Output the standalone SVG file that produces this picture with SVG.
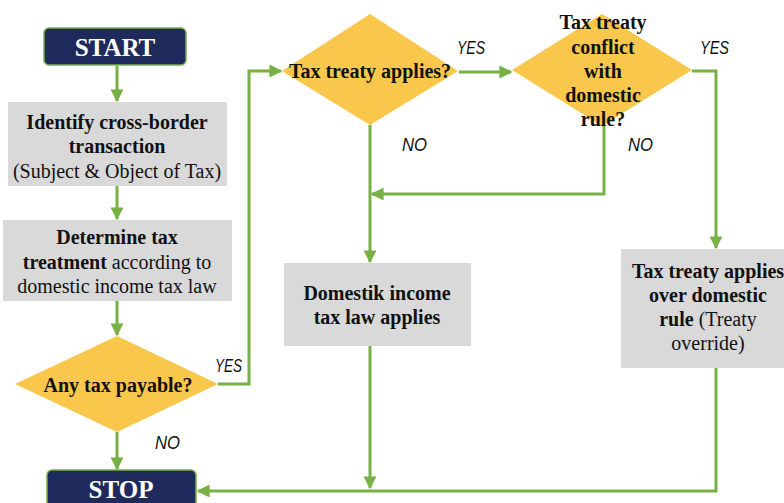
<svg xmlns="http://www.w3.org/2000/svg" width="784" height="503" viewBox="0 0 784 503">
<defs>
<style>
.term{fill:#1F2A5C;stroke:#77B043;stroke-width:1.5}
.proc{fill:#D9D9D9}
.dec{fill:#F9C74B}
.tt{font-family:"Liberation Serif","Times New Roman",serif;font-size:25px;font-weight:bold;fill:#FFFFFF;text-anchor:middle}
.t{font-family:"Liberation Serif","Times New Roman",serif;font-size:20px;fill:#111111;text-anchor:middle}
.b{font-weight:bold}
.lbl{font-family:"Liberation Sans",sans-serif;font-style:italic;font-size:18.5px;fill:#111111}
.c{fill:none;stroke:#77B043;stroke-width:3}
</style>
<marker id="ah" viewBox="0 0 10 10" refX="9" refY="5" markerWidth="4.3" markerHeight="4.3" markerUnits="strokeWidth" orient="auto">
<path d="M0,0 L10,5 L0,10 Z" fill="#77B043"/>
</marker>
</defs>
<rect width="784" height="503" fill="#FFFFFF"/>

<g id="connectors">
<path class="c" d="M117,66 V101" marker-end="url(#ah)"/>
<path class="c" d="M117,186 V219" marker-end="url(#ah)"/>
<path class="c" d="M117,301 V335" marker-end="url(#ah)"/>
<path class="c" d="M117,432 V469" marker-end="url(#ah)"/>
<path class="c" d="M218,384 H249 V71 H281" marker-end="url(#ah)"/>
<path class="c" d="M459,72 H511" marker-end="url(#ah)"/>
<path class="c" d="M370,125 V262" marker-end="url(#ah)"/>
<path class="c" d="M604,126 V194 H372" marker-end="url(#ah)"/>
<path class="c" d="M692,71 H716 V248" marker-end="url(#ah)"/>
<path class="c" d="M370,346 V488" marker-end="url(#ah)"/>
<path class="c" d="M716,368 V491 H198" marker-end="url(#ah)"/>
</g>

<g id="start">
<rect class="term" x="44" y="28" width="142" height="37" rx="5"/>
<text class="tt" x="115" y="56">START</text>
</g>

<g id="identify">
<rect class="proc" x="8" y="102" width="219" height="84"/>
<text class="t b" x="117" y="129">Identify cross-border</text>
<text class="t b" x="117" y="153">transaction</text>
<text class="t" x="117" y="178">(Subject &amp; Object of Tax)</text>
</g>

<g id="determine">
<rect class="proc" x="3" y="220" width="229" height="81"/>
<text class="t" x="117" y="244"><tspan class="b">Determine tax</tspan></text>
<text class="t" x="117" y="269"><tspan class="b">treatment</tspan> according to</text>
<text class="t" x="117" y="293">domestic income tax law</text>
</g>

<g id="payable">
<polygon class="dec" points="117,336 218,384 117,432 15,384"/>
<text class="t b" x="118" y="392">Any tax payable?</text>
</g>

<g id="stop">
<rect class="term" x="47" y="470" width="149" height="40" rx="5"/>
<text class="tt" x="121" y="498">STOP</text>
</g>

<g id="treaty-applies">
<polygon class="dec" points="370,14 458,71 370,125 282,71"/>
<text class="t b" x="370" y="78">Tax treaty applies?</text>
</g>

<g id="conflict">
<polygon class="dec" points="602,14 692,70 602,126 512,70"/>
<text class="t b" x="603" y="29">Tax treaty</text>
<text class="t b" x="603" y="54">conflict</text>
<text class="t b" x="603" y="78">with</text>
<text class="t b" x="603" y="102">domestic</text>
<text class="t b" x="603" y="126">rule?</text>
</g>

<g id="domestic">
<rect class="proc" x="284" y="263" width="187" height="83"/>
<text class="t b" x="377" y="300">Domestik income</text>
<text class="t b" x="377" y="324">tax law applies</text>
</g>

<g id="override">
<rect class="proc" x="621" y="249" width="175" height="119"/>
<text class="t b" x="708" y="278">Tax treaty applies</text>
<text class="t b" x="708" y="302">over domestic</text>
<text class="t" x="708" y="326"><tspan class="b">rule</tspan> (Treaty</text>
<text class="t" x="708" y="350">override)</text>
</g>

<g id="labels">
<text class="lbl" x="215" y="372" textLength="27" lengthAdjust="spacingAndGlyphs">YES</text>
<text class="lbl" x="155" y="449" textLength="25" lengthAdjust="spacingAndGlyphs">NO</text>
<text class="lbl" x="457" y="54" textLength="28" lengthAdjust="spacingAndGlyphs">YES</text>
<text class="lbl" x="402" y="151" textLength="25" lengthAdjust="spacingAndGlyphs">NO</text>
<text class="lbl" x="700" y="54" textLength="29" lengthAdjust="spacingAndGlyphs">YES</text>
<text class="lbl" x="628" y="151" textLength="25" lengthAdjust="spacingAndGlyphs">NO</text>
</g>
</svg>
